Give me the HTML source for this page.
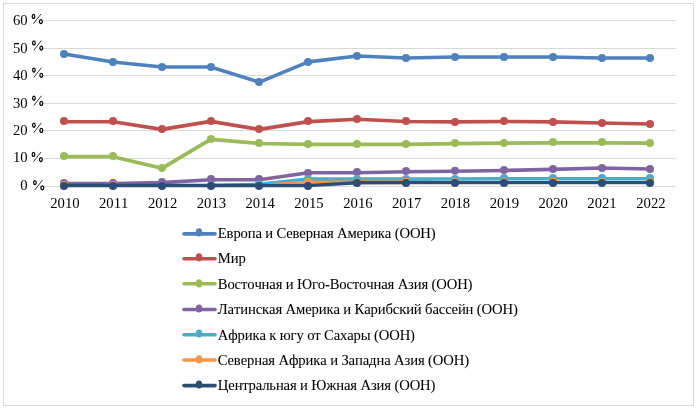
<!DOCTYPE html>
<html><head><meta charset="utf-8"><title>chart</title>
<style>
html,body{margin:0;padding:0;background:#fff;}
body{width:698px;height:410px;overflow:hidden;position:relative;font-family:"Liberation Serif",serif;}
svg{position:absolute;left:0;top:0;will-change:transform;}
text{font-family:"Liberation Serif",serif;font-size:14.67px;fill:#000;font-kerning:none;stroke:#000;stroke-width:0.06px;}
</style></head><body>
<svg width="698" height="410" viewBox="0 0 698 410">
<rect x="0" y="0" width="698" height="410" fill="#fff"/>
<rect x="3.5" y="3.5" width="690" height="402" fill="none" stroke="#D9D9D9" stroke-width="1"/>

<line x1="40" y1="20.5" x2="675.5" y2="20.5" stroke="#D9D9D9" stroke-width="1"/>
<line x1="40" y1="48.5" x2="675.5" y2="48.5" stroke="#D9D9D9" stroke-width="1"/>
<line x1="40" y1="75.5" x2="675.5" y2="75.5" stroke="#D9D9D9" stroke-width="1"/>
<line x1="40" y1="103.5" x2="675.5" y2="103.5" stroke="#D9D9D9" stroke-width="1"/>
<line x1="40" y1="130.5" x2="675.5" y2="130.5" stroke="#D9D9D9" stroke-width="1"/>
<line x1="40" y1="158.5" x2="675.5" y2="158.5" stroke="#D9D9D9" stroke-width="1"/>
<line x1="40" y1="186.5" x2="675.5" y2="186.5" stroke="#D9D9D9" stroke-width="1"/>
<text x="27.6" y="24.7" text-anchor="end" style="stroke:none">60</text>
<g transform="translate(31.60,24.20)" fill="none" stroke="#000"><ellipse cx="1.9" cy="-7.8" rx="1.3" ry="2.0" stroke-width="1.2"/><ellipse cx="9.3" cy="-2.6" rx="1.45" ry="2.0" stroke-width="1.2"/><line x1="9.4" y1="-10.2" x2="1.8" y2="-0.45" stroke-width="0.8"/></g>
<text x="27.6" y="52.7" text-anchor="end" style="stroke:none">50</text>
<g transform="translate(32.00,50.70)" fill="none" stroke="#000"><ellipse cx="1.9" cy="-7.8" rx="1.3" ry="2.0" stroke-width="1.2"/><ellipse cx="9.3" cy="-2.6" rx="1.45" ry="2.0" stroke-width="1.2"/><line x1="9.4" y1="-10.2" x2="1.8" y2="-0.45" stroke-width="0.8"/></g>
<text x="27.6" y="79.7" text-anchor="end" style="stroke:none">40</text>
<g transform="translate(32.00,77.90)" fill="none" stroke="#000"><ellipse cx="1.9" cy="-7.8" rx="1.3" ry="2.0" stroke-width="1.2"/><ellipse cx="9.3" cy="-2.6" rx="1.45" ry="2.0" stroke-width="1.2"/><line x1="9.4" y1="-10.2" x2="1.8" y2="-0.45" stroke-width="0.8"/></g>
<text x="27.6" y="107.7" text-anchor="end" style="stroke:none">30</text>
<g transform="translate(32.00,106.00)" fill="none" stroke="#000"><ellipse cx="1.9" cy="-7.8" rx="1.3" ry="2.0" stroke-width="1.2"/><ellipse cx="9.3" cy="-2.6" rx="1.45" ry="2.0" stroke-width="1.2"/><line x1="9.4" y1="-10.2" x2="1.8" y2="-0.45" stroke-width="0.8"/></g>
<text x="27.6" y="134.7" text-anchor="end" style="stroke:none">20</text>
<g transform="translate(32.00,133.00)" fill="none" stroke="#000"><ellipse cx="1.9" cy="-7.8" rx="1.3" ry="2.0" stroke-width="1.2"/><ellipse cx="9.3" cy="-2.6" rx="1.45" ry="2.0" stroke-width="1.2"/><line x1="9.4" y1="-10.2" x2="1.8" y2="-0.45" stroke-width="0.8"/></g>
<text x="27.6" y="162.4" text-anchor="end" style="stroke:none">10</text>
<g transform="translate(31.60,162.20)" fill="none" stroke="#000"><ellipse cx="1.9" cy="-7.8" rx="1.3" ry="2.0" stroke-width="1.2"/><ellipse cx="9.3" cy="-2.6" rx="1.45" ry="2.0" stroke-width="1.2"/><line x1="9.4" y1="-10.2" x2="1.8" y2="-0.45" stroke-width="0.8"/></g>
<text x="27.6" y="190.4" text-anchor="end" style="stroke:none">0</text>
<g transform="translate(33.00,190.40)" fill="none" stroke="#000"><ellipse cx="1.9" cy="-7.8" rx="1.3" ry="2.0" stroke-width="1.2"/><ellipse cx="9.3" cy="-2.6" rx="1.45" ry="2.0" stroke-width="1.2"/><line x1="9.4" y1="-10.2" x2="1.8" y2="-0.45" stroke-width="0.8"/></g>
<text x="64.9" y="207.7" text-anchor="middle" style="stroke:none">2010</text>
<text x="113.7" y="207.7" text-anchor="middle" style="stroke:none">2011</text>
<text x="162.6" y="207.7" text-anchor="middle" style="stroke:none">2012</text>
<text x="211.4" y="207.7" text-anchor="middle" style="stroke:none">2013</text>
<text x="260.2" y="207.7" text-anchor="middle" style="stroke:none">2014</text>
<text x="309.0" y="207.7" text-anchor="middle" style="stroke:none">2015</text>
<text x="357.9" y="207.7" text-anchor="middle" style="stroke:none">2016</text>
<text x="406.7" y="207.7" text-anchor="middle" style="stroke:none">2017</text>
<text x="455.5" y="207.7" text-anchor="middle" style="stroke:none">2018</text>
<text x="504.4" y="207.7" text-anchor="middle" style="stroke:none">2019</text>
<text x="553.2" y="207.7" text-anchor="middle" style="stroke:none">2020</text>
<text x="602.0" y="207.7" text-anchor="middle" style="stroke:none">2021</text>
<text x="650.9" y="207.7" text-anchor="middle" style="stroke:none">2022</text>
<polyline points="64.2,54.0 113.0,62.0 161.9,67.0 210.7,67.0 259.5,82.1 308.3,61.9 357.2,56.0 406.0,58.0 454.8,57.0 503.7,57.0 552.5,57.0 601.3,58.0 650.2,58.0" fill="none" stroke="#4F81BD" stroke-width="3.6" stroke-linejoin="round" stroke-linecap="round"/>
<circle cx="64.0" cy="54.0" r="4.0" fill="#4F81BD"/>
<circle cx="113.0" cy="62.0" r="4.0" fill="#4F81BD"/>
<circle cx="162.0" cy="67.0" r="4.0" fill="#4F81BD"/>
<circle cx="211.0" cy="67.0" r="4.0" fill="#4F81BD"/>
<circle cx="259.0" cy="82.0" r="4.0" fill="#4F81BD"/>
<circle cx="308.0" cy="62.0" r="4.0" fill="#4F81BD"/>
<circle cx="357.0" cy="56.0" r="4.0" fill="#4F81BD"/>
<circle cx="406.0" cy="58.0" r="4.0" fill="#4F81BD"/>
<circle cx="455.0" cy="57.0" r="4.0" fill="#4F81BD"/>
<circle cx="504.0" cy="57.0" r="4.0" fill="#4F81BD"/>
<circle cx="553.0" cy="57.0" r="4.0" fill="#4F81BD"/>
<circle cx="602.0" cy="58.0" r="4.0" fill="#4F81BD"/>
<circle cx="650.0" cy="58.0" r="4.0" fill="#4F81BD"/>
<polyline points="64.2,121.7 113.0,121.7 161.9,129.4 210.7,121.4 259.5,129.4 308.3,121.6 357.2,119.2 406.0,121.5 454.8,121.9 503.7,121.5 552.5,121.9 601.3,123.0 650.2,124.0" fill="none" stroke="#C0504D" stroke-width="3.6" stroke-linejoin="round" stroke-linecap="round"/>
<circle cx="64.0" cy="121.0" r="4.0" fill="#C0504D"/>
<circle cx="113.0" cy="121.0" r="4.0" fill="#C0504D"/>
<circle cx="162.0" cy="129.0" r="4.0" fill="#C0504D"/>
<circle cx="211.0" cy="121.0" r="4.0" fill="#C0504D"/>
<circle cx="259.0" cy="129.0" r="4.0" fill="#C0504D"/>
<circle cx="308.0" cy="121.0" r="4.0" fill="#C0504D"/>
<circle cx="357.0" cy="119.0" r="4.0" fill="#C0504D"/>
<circle cx="406.0" cy="121.0" r="4.0" fill="#C0504D"/>
<circle cx="455.0" cy="122.0" r="4.0" fill="#C0504D"/>
<circle cx="504.0" cy="121.0" r="4.0" fill="#C0504D"/>
<circle cx="553.0" cy="122.0" r="4.0" fill="#C0504D"/>
<circle cx="602.0" cy="123.0" r="4.0" fill="#C0504D"/>
<circle cx="650.0" cy="124.0" r="4.0" fill="#C0504D"/>
<polyline points="64.2,156.7 113.0,156.7 161.9,168.3 210.7,139.3 259.5,143.5 308.3,144.4 357.2,144.3 406.0,144.3 454.8,143.6 503.7,143.2 552.5,142.8 601.3,142.8 650.2,143.2" fill="none" stroke="#9BBB59" stroke-width="3.7" stroke-linejoin="round" stroke-linecap="round"/>
<circle cx="64.0" cy="156.0" r="4.0" fill="#9BBB59"/>
<circle cx="113.0" cy="156.0" r="4.0" fill="#9BBB59"/>
<circle cx="162.0" cy="168.0" r="4.0" fill="#9BBB59"/>
<circle cx="211.0" cy="139.0" r="4.0" fill="#9BBB59"/>
<circle cx="259.0" cy="143.0" r="4.0" fill="#9BBB59"/>
<circle cx="308.0" cy="144.0" r="4.0" fill="#9BBB59"/>
<circle cx="357.0" cy="144.0" r="4.0" fill="#9BBB59"/>
<circle cx="406.0" cy="144.0" r="4.0" fill="#9BBB59"/>
<circle cx="455.0" cy="143.0" r="4.0" fill="#9BBB59"/>
<circle cx="504.0" cy="143.0" r="4.0" fill="#9BBB59"/>
<circle cx="553.0" cy="142.0" r="4.0" fill="#9BBB59"/>
<circle cx="602.0" cy="142.0" r="4.0" fill="#9BBB59"/>
<circle cx="650.0" cy="143.0" r="4.0" fill="#9BBB59"/>
<polyline points="64.2,183.6 113.0,183.6 161.9,182.6 210.7,179.7 259.5,179.7 308.3,172.8 357.2,172.8 406.0,171.7 454.8,171.2 503.7,170.5 552.5,169.4 601.3,168.0 650.2,169.0" fill="none" stroke="#8064A2" stroke-width="3.6" stroke-linejoin="round" stroke-linecap="round"/>
<circle cx="64.0" cy="183.0" r="4.0" fill="#8064A2"/>
<circle cx="113.0" cy="183.0" r="4.0" fill="#8064A2"/>
<circle cx="162.0" cy="182.0" r="4.0" fill="#8064A2"/>
<circle cx="211.0" cy="179.0" r="4.0" fill="#8064A2"/>
<circle cx="259.0" cy="179.0" r="4.0" fill="#8064A2"/>
<circle cx="308.0" cy="173.0" r="4.0" fill="#8064A2"/>
<circle cx="357.0" cy="172.0" r="4.0" fill="#8064A2"/>
<circle cx="406.0" cy="171.0" r="4.0" fill="#8064A2"/>
<circle cx="455.0" cy="170.8" r="4.0" fill="#8064A2"/>
<circle cx="504.0" cy="170.0" r="4.0" fill="#8064A2"/>
<circle cx="553.0" cy="169.0" r="4.0" fill="#8064A2"/>
<circle cx="602.0" cy="168.0" r="4.0" fill="#8064A2"/>
<circle cx="650.0" cy="169.0" r="4.0" fill="#8064A2"/>
<polyline points="210.7,185.5 259.5,184.4 308.3,179.0 357.2,179.1 406.0,179.1 454.8,179.0 503.7,178.8 552.5,178.7 601.3,178.7 650.2,178.7" fill="none" stroke="#4BACC6" stroke-width="3.6" stroke-linejoin="round" stroke-linecap="round"/>
<circle cx="162.0" cy="185.5" r="4.0" fill="#4BACC6"/>
<circle cx="211.0" cy="185.5" r="4.0" fill="#4BACC6"/>
<circle cx="259.0" cy="184.3" r="4.0" fill="#4BACC6"/>
<circle cx="308.0" cy="179.0" r="4.0" fill="#4BACC6"/>
<circle cx="357.0" cy="179.0" r="4.0" fill="#4BACC6"/>
<circle cx="406.0" cy="179.0" r="4.0" fill="#4BACC6"/>
<circle cx="455.0" cy="179.0" r="4.0" fill="#4BACC6"/>
<circle cx="504.0" cy="178.0" r="4.0" fill="#4BACC6"/>
<circle cx="553.0" cy="178.0" r="4.0" fill="#4BACC6"/>
<circle cx="602.0" cy="178.0" r="4.0" fill="#4BACC6"/>
<circle cx="650.0" cy="178.0" r="4.0" fill="#4BACC6"/>
<polyline points="259.5,185.5 308.3,182.3 357.2,182.2 406.0,182.4" fill="none" stroke="#F79646" stroke-width="3.6" stroke-linejoin="round" stroke-linecap="round"/>
<circle cx="64.0" cy="185.0" r="4.0" fill="#F79646"/>
<circle cx="113.0" cy="185.0" r="4.0" fill="#F79646"/>
<circle cx="308.0" cy="182.0" r="4.0" fill="#F79646"/>
<circle cx="357.0" cy="182.5" r="4.0" fill="#F79646"/>
<circle cx="406.0" cy="182.1" r="4.0" fill="#F79646"/>
<circle cx="455.0" cy="182.1" r="4.0" fill="#F79646"/>
<circle cx="504.0" cy="182.1" r="4.0" fill="#F79646"/>
<circle cx="553.0" cy="182.1" r="4.0" fill="#F79646"/>
<circle cx="602.0" cy="182.1" r="4.0" fill="#F79646"/>
<circle cx="650.0" cy="182.1" r="4.0" fill="#F79646"/>
<polyline points="64.2,185.5 113.0,185.5 161.9,185.5 210.7,185.5 259.5,185.5 308.3,185.6 357.2,182.7 406.0,182.6 454.8,182.6 503.7,182.6 552.5,182.6 601.3,182.6 650.2,182.6" fill="none" stroke="#2C4D75" stroke-width="3.4" stroke-linejoin="round" stroke-linecap="round"/>
<circle cx="64.0" cy="186.0" r="4.0" fill="#2C4D75"/>
<circle cx="113.0" cy="186.0" r="4.0" fill="#2C4D75"/>
<circle cx="162.0" cy="186.0" r="4.0" fill="#2C4D75"/>
<circle cx="211.0" cy="186.0" r="4.0" fill="#2C4D75"/>
<circle cx="259.0" cy="186.0" r="4.0" fill="#2C4D75"/>
<circle cx="308.0" cy="186.0" r="4.0" fill="#2C4D75"/>
<circle cx="357.0" cy="183.0" r="4.0" fill="#2C4D75"/>
<circle cx="406.0" cy="183.0" r="4.0" fill="#2C4D75"/>
<circle cx="455.0" cy="183.0" r="4.0" fill="#2C4D75"/>
<circle cx="504.0" cy="183.0" r="4.0" fill="#2C4D75"/>
<circle cx="553.0" cy="183.0" r="4.0" fill="#2C4D75"/>
<circle cx="602.0" cy="183.0" r="4.0" fill="#2C4D75"/>
<circle cx="650.0" cy="183.0" r="4.0" fill="#2C4D75"/>
<line x1="184" y1="233.9" x2="215" y2="233.9" stroke="#4F81BD" stroke-width="3.6" stroke-linecap="round"/>
<ellipse cx="199.0" cy="232.45" rx="3.25" ry="4.1" fill="#4F81BD"/>
<text x="217.8" y="237.8" textLength="217.89" lengthAdjust="spacing">Европа и Северная Америка (ООН)</text>
<line x1="184" y1="258.8" x2="215" y2="258.8" stroke="#C0504D" stroke-width="3.6" stroke-linecap="round"/>
<ellipse cx="199.0" cy="257.30" rx="3.25" ry="4.1" fill="#C0504D"/>
<text x="217.8" y="263.1" textLength="27.92" lengthAdjust="spacing">Мир</text>
<line x1="184" y1="283.8" x2="215" y2="283.8" stroke="#9BBB59" stroke-width="3.6" stroke-linecap="round"/>
<ellipse cx="199.0" cy="283.40" rx="3.25" ry="4.1" fill="#9BBB59"/>
<text x="217.8" y="288.5" textLength="254.68" lengthAdjust="spacing">Восточная и Юго-Восточная Азия (ООН)</text>
<line x1="184" y1="309.5" x2="215" y2="309.5" stroke="#8064A2" stroke-width="3.6" stroke-linecap="round"/>
<ellipse cx="199.0" cy="308.50" rx="3.25" ry="4.1" fill="#8064A2"/>
<text x="217.8" y="314.0" textLength="300.04" lengthAdjust="spacing">Латинская Америка и Карибский бассейн (ООН)</text>
<line x1="184" y1="334.8" x2="215" y2="334.8" stroke="#4BACC6" stroke-width="3.6" stroke-linecap="round"/>
<ellipse cx="199.0" cy="333.50" rx="3.25" ry="4.1" fill="#4BACC6"/>
<text x="217.8" y="339.5" textLength="197.16" lengthAdjust="spacing">Африка к югу от Сахары (ООН)</text>
<line x1="184" y1="360.0" x2="215" y2="360.0" stroke="#F79646" stroke-width="3.6" stroke-linecap="round"/>
<ellipse cx="199.0" cy="359.40" rx="3.25" ry="4.1" fill="#F79646"/>
<text x="217.8" y="364.7" textLength="251.34" lengthAdjust="spacing">Северная Африка и Западна Азия (ООН)</text>
<line x1="184" y1="385.6" x2="215" y2="385.6" stroke="#2C4D75" stroke-width="3.6" stroke-linecap="round"/>
<ellipse cx="199.0" cy="384.50" rx="3.25" ry="4.1" fill="#2C4D75"/>
<text x="217.8" y="389.7" textLength="217.62" lengthAdjust="spacing">Центральная и Южная Азия (ООН)</text>
</svg></body></html>
